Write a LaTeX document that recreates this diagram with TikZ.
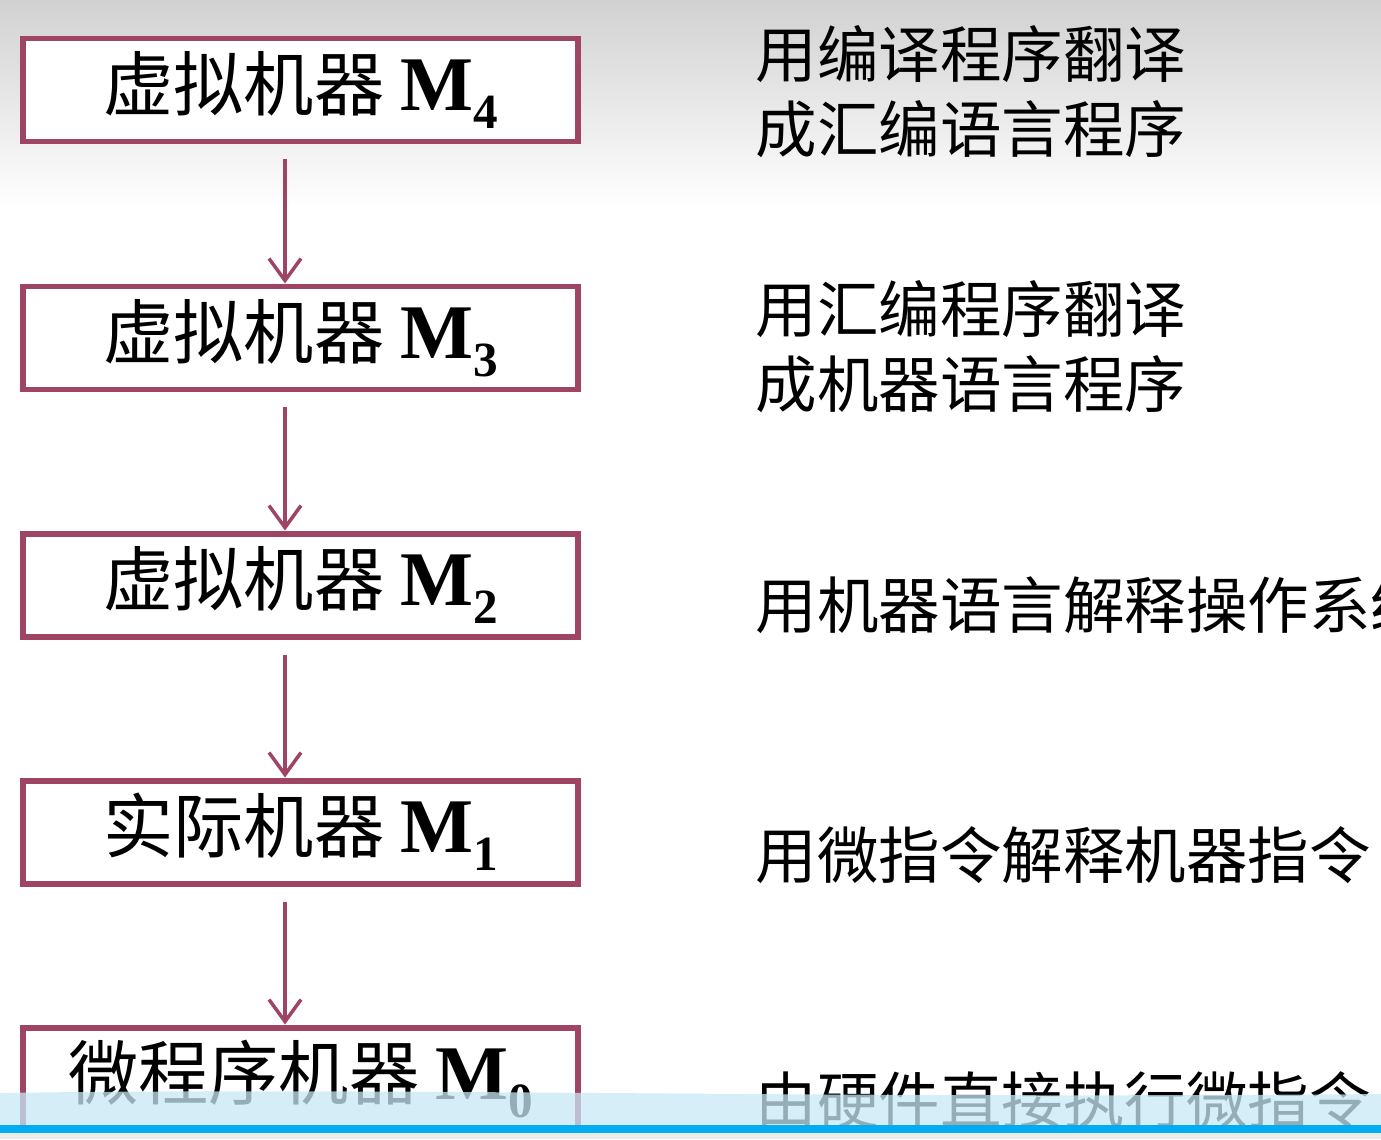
\documentclass[tikz,border=0pt]{standalone}
\usepackage{fontspec}
\setmainfont{Liberation Serif}
\newfontfamily\cjk{Noto Sans CJK SC}
\usetikzlibrary{arrows.meta,calc,positioning}
\definecolor{BoxClr}{rgb}{0.62,0.27,0.40}
\definecolor{BandClr}{rgb}{0.78,0.91,0.96}
\definecolor{BarClr}{rgb}{0,0.68,0.94}

\newcommand{\Mach}[1]{{\rmfamily\bfseries\fontsize{22}{24}\selectfont M\raisebox{-.5ex}{\fontsize{14}{14}\selectfont #1}}}

\begin{document}
\begin{tikzpicture}[
  machine/.style={draw=BoxClr,line width=1.7pt,fill=white,minimum width=5.55cm,
    minimum height=1.03cm,inner sep=0pt,font=\cjk\fontsize{20}{24}\selectfont},
  note/.style={anchor=west,align=left,inner sep=0pt,font=\cjk\fontsize{17.5}{21.3}\selectfont},
  arr/.style={draw=BoxClr,line width=1.2pt,-{Straight Barb[length=2.2mm,width=3.2mm,line width=1pt]}}
]
\clip (0,0) rectangle (13.81,11.39);
\shade[top color=black!18,bottom color=white] (0,9.3) rectangle (13.81,11.39);

\node[machine] (m4) at (3.005,10.49) {虚拟机器 \Mach{4}};
\node[machine] (m3) at (3.005,8.01) {虚拟机器 \Mach{3}};
\node[machine] (m2) at (3.005,5.54) {虚拟机器 \Mach{2}};
\node[machine] (m1) at (3.005,3.07) {实际机器 \Mach{1}};
\node[machine] (m0) at (3.005,0.60) {微程序机器 \Mach{0}};

\foreach \a/\b in {m4/m3,m3/m2,m2/m1,m1/m0}
  \draw[arr] ([xshift=-1.55mm,yshift=-1.5mm]\a.south) -- ([xshift=-1.55mm]\b.north);

\node[note] (t4) at (7.55,10.47) {用编译程序翻译\\成汇编语言程序};
\node[note] (t3) at (7.55,7.92) {用汇编程序翻译\\成机器语言程序};
\node[note] (t2) at (7.55,5.34) {用机器语言解释操作系统};
\node[note] (t1) at (7.55,2.84) {用微指令解释机器指令};
\node[note] (t0) at (7.55,0.39) {由硬件直接执行微指令};

% player overlay at the bottom
\fill[BandClr,opacity=.75] (0,0.46) .. controls (4,0.52) and (8,0.40) .. (13.81,0.45) -- (13.81,0.14) -- (0,0.14) -- cycle;
\fill[BarClr] (0,0.06) rectangle (13.81,0.14);
\fill[black!8] (0,0) rectangle (13.81,0.06);
\end{tikzpicture}
\end{document}
